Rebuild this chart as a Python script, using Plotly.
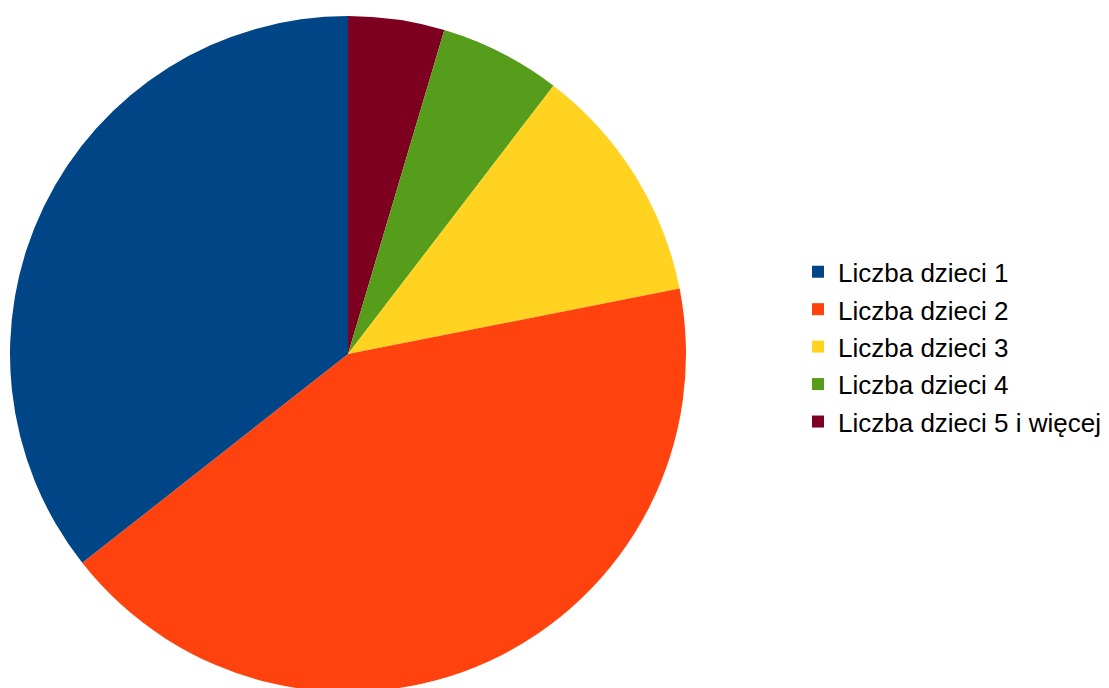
import plotly.graph_objects as go

categories = ["Liczba dzieci 1", "Liczba dzieci 2", "Liczba dzieci 3",
              "Liczba dzieci 4", "Liczba dzieci 5 i więcej"]
values = [35.6, 42.5, 11.5, 5.8, 4.6]
colors = ["#004586", "#ff420e", "#ffd320", "#579d1c", "#7e0021"]

W, H = 1109, 688
# page body has an 8px default margin, so figure coords are offset by 8px
cx, cy, r = 340, 346, 338

labels = [f'<span style="font-size:26px">{c}</span>' for c in categories]

# slices run counterclockwise from 12 o'clock: draw reversed lists clockwise
fig = go.Figure(go.Pie(
    labels=labels[::-1],
    values=values[::-1],
    sort=False,
    direction="clockwise",
    rotation=0,
    textinfo="none",
    hoverinfo="label+percent",
    marker=dict(colors=colors[::-1], line=dict(width=0)),
    domain=dict(x=[(cx - r) / W, (cx + r) / W],
                y=[(H - cy - r) / H, (H - cy + r) / H]),
))

fig.update_layout(
    width=W, height=H,
    margin=dict(l=0, r=0, t=0, b=0),
    paper_bgcolor="white",
    plot_bgcolor="white",
    font=dict(family="Liberation Sans, Arial, sans-serif", color="black"),
    legend=dict(
        x=790 / W, xanchor="left",
        y=1 - 339 / H, yanchor="middle",
        traceorder="reversed",
        font=dict(size=26.5, family="Liberation Sans, Arial, sans-serif", color="black"),
        itemwidth=30,
        bgcolor="rgba(0,0,0,0)",
    ),
)

fig.write_html("out.html")
